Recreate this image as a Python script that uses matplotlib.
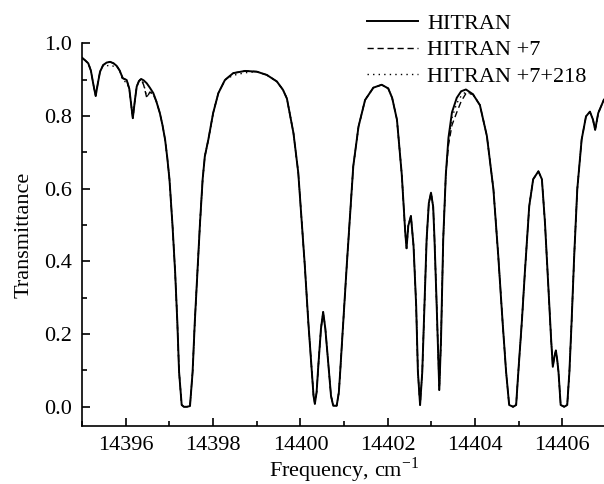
import matplotlib
matplotlib.use('Agg')
import matplotlib.pyplot as plt
from matplotlib.ticker import MultipleLocator

plt.rcParams['font.family'] = 'Liberation Serif'
plt.rcParams['mathtext.fontset'] = 'custom'
plt.rcParams['mathtext.rm'] = 'Liberation Serif'
plt.rcParams['font.size'] = 16

# frequency grid (cm-1) and transmittance
freq = [14395.00, 14395.07, 14395.14, 14395.20, 14395.26, 14395.31, 14395.36, 14395.41,
        14395.48, 14395.56, 14395.64, 14395.72, 14395.79, 14395.86, 14395.93, 14396.02,
        14396.08, 14396.16, 14396.21, 14396.25, 14396.30, 14396.35, 14396.41, 14396.48,
        14396.55, 14396.63, 14396.70, 14396.78, 14396.84, 14396.90, 14396.95, 14397.00,
        14397.07, 14397.13, 14397.18, 14397.22, 14397.28, 14397.33, 14397.40, 14397.47,
        14397.53, 14397.58, 14397.64, 14397.70, 14397.76, 14397.81, 14397.89, 14398.00,
        14398.12, 14398.27, 14398.46, 14398.73, 14399.00, 14399.23, 14399.46, 14399.60,
        14399.69, 14399.84, 14399.95, 14400.03, 14400.10, 14400.18, 14400.26, 14400.30,
        14400.33, 14400.37, 14400.41, 14400.47, 14400.52, 14400.57, 14400.64, 14400.70,
        14400.75, 14400.83, 14400.88, 14400.91, 14400.98, 14401.06, 14401.14, 14401.21,
        14401.33, 14401.48, 14401.67, 14401.86, 14402.01, 14402.10, 14402.21, 14402.32,
        14402.40, 14402.43, 14402.47, 14402.53, 14402.59, 14402.65, 14402.69, 14402.74,
        14402.79, 14402.84, 14402.89, 14402.94, 14402.99, 14403.04, 14403.07, 14403.12,
        14403.18, 14403.22, 14403.27, 14403.33, 14403.39, 14403.47, 14403.58, 14403.68,
        14403.79, 14403.95, 14404.11, 14404.27, 14404.42, 14404.53, 14404.63, 14404.71,
        14404.78, 14404.87, 14404.94, 14404.99, 14405.07, 14405.14, 14405.24, 14405.33,
        14405.45, 14405.53, 14405.60, 14405.68, 14405.74, 14405.78, 14405.82, 14405.85,
        14405.88, 14405.91, 14405.96, 14406.04, 14406.11, 14406.16, 14406.21, 14406.27,
        14406.34, 14406.44, 14406.54, 14406.63, 14406.70, 14406.75, 14406.82, 14406.95,
        14407.00]

hitran = [0.960, 0.953, 0.945, 0.925, 0.885, 0.855, 0.890, 0.922,
          0.940, 0.947, 0.949, 0.945, 0.938, 0.925, 0.904, 0.899,
          0.875, 0.794, 0.845, 0.881, 0.896, 0.902, 0.898, 0.890,
          0.878, 0.863, 0.840, 0.808, 0.775, 0.735, 0.685, 0.626,
          0.498, 0.370, 0.233, 0.096, 0.005, 0.000, 0.000, 0.002,
          0.096, 0.233, 0.370, 0.507, 0.626, 0.689, 0.735, 0.808,
          0.863, 0.899, 0.918, 0.924, 0.922, 0.913, 0.895, 0.872,
          0.848, 0.753, 0.644, 0.507, 0.388, 0.233, 0.096, 0.030,
          0.008, 0.040, 0.114, 0.215, 0.261, 0.215, 0.114, 0.030,
          0.003, 0.003, 0.040, 0.096, 0.233, 0.388, 0.534, 0.662,
          0.771, 0.844, 0.878, 0.886, 0.876, 0.850, 0.790, 0.640,
          0.480, 0.436, 0.498, 0.525, 0.443, 0.279, 0.096, 0.005,
          0.096, 0.279, 0.461, 0.560, 0.589, 0.550, 0.461, 0.279,
          0.046, 0.188, 0.461, 0.640, 0.740, 0.810, 0.850, 0.868,
          0.873, 0.860, 0.830, 0.745, 0.598, 0.416, 0.233, 0.096,
          0.005, 0.000, 0.005, 0.096, 0.233, 0.370, 0.552, 0.626,
          0.648, 0.626, 0.507, 0.324, 0.188, 0.110, 0.140, 0.155,
          0.130, 0.096, 0.005, 0.000, 0.005, 0.096, 0.233, 0.416,
          0.598, 0.735, 0.799, 0.812, 0.790, 0.762, 0.808, 0.845,
          0.850]

# where the other two models differ from HITRAN
plus7_diff = {14396.41: 0.885, 14396.48: 0.850, 14396.55: 0.866, 14396.63: 0.860,
              14403.39: 0.720, 14403.47: 0.775, 14403.58: 0.810, 14403.68: 0.840,
              14403.79: 0.862}
plus218_diff = {14395.56: 0.938, 14395.64: 0.940, 14395.72: 0.937, 14395.93: 0.897,
                14396.02: 0.893, 14396.41: 0.888, 14396.48: 0.852, 14396.55: 0.866,
                14396.63: 0.860, 14398.46: 0.912, 14398.73: 0.919,
                14403.39: 0.730, 14403.47: 0.795, 14403.58: 0.835, 14403.68: 0.855,
                14403.79: 0.867}

hitran7 = [plus7_diff.get(f, t) for f, t in zip(freq, hitran)]
hitran218 = [plus218_diff.get(f, t) for f, t in zip(freq, hitran)]

fig = plt.figure(figsize=(6.04, 4.84), dpi=100)
ax = fig.add_axes([0.136, 0.119, 0.866, 0.7915])

ax.plot(freq, hitran, color='black', lw=1.4, label='HITRAN')
ax.plot(freq, hitran7, color='black', lw=1.0, dashes=(4.5, 2.7), label='HITRAN +7')
ax.plot(freq, hitran218, color='black', lw=1.0, dashes=(1, 3), label='HITRAN +7+218')

ax.set_xlim(14395, 14406.98)
ax.set_ylim(-0.054, 1.0)
ax.xaxis.set_major_locator(MultipleLocator(2))
ax.xaxis.set_minor_locator(MultipleLocator(1))
ax.yaxis.set_major_locator(MultipleLocator(0.2))
ax.yaxis.set_minor_locator(MultipleLocator(0.1))
ax.xaxis.set_major_formatter(plt.FuncFormatter(lambda v, p: '%d' % v))
ax.yaxis.set_major_formatter(plt.FuncFormatter(lambda v, p: '%.1f' % v))
ax.tick_params(which='major', direction='in', length=6, width=1.2, pad=7)
ax.tick_params(which='minor', direction='in', length=3.5, width=1.2)
ax.spines['top'].set_visible(False)
ax.spines['right'].set_visible(False)
ax.spines['left'].set_linewidth(1.2)
ax.spines['bottom'].set_linewidth(1.2)

ax.set_xlabel('Frequency, cm$^{-1}$', labelpad=0)
ax.set_ylabel('Transmittance', labelpad=8)

fig.legend(loc='upper left', bbox_to_anchor=(367 / 604, 1 - 13 / 484), frameon=False,
           borderpad=0, borderaxespad=0, handlelength=2.3, handletextpad=0.4,
           labelspacing=0.28)

fig.savefig('out.png', dpi=100)
